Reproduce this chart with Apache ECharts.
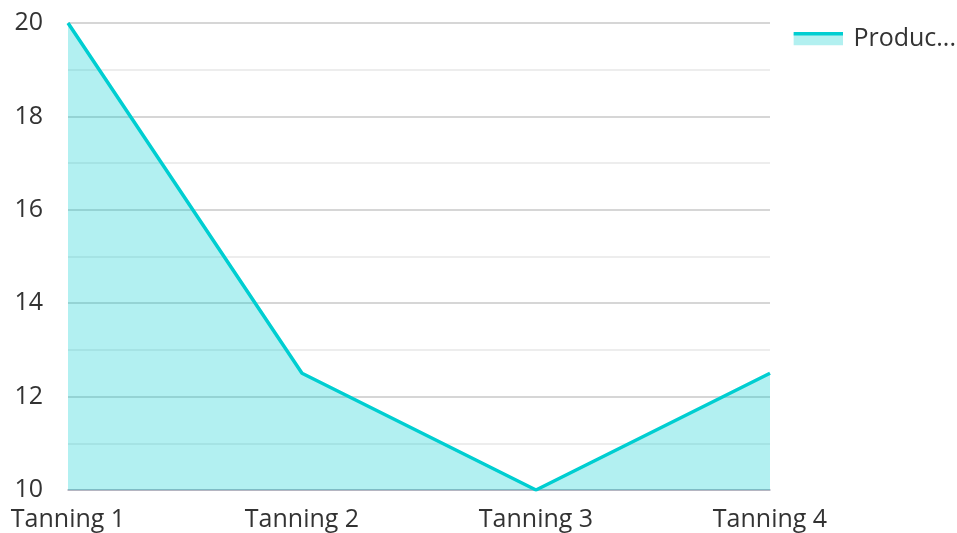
<!DOCTYPE html>
<html><head><meta charset="utf-8">
<script src="https://cdn.jsdelivr.net/npm/echarts@6/dist/echarts.min.js"></script>
<style>html,body{margin:0;padding:0;background:#fff}#c{width:957px;height:533px}</style>
</head><body><div id="c"></div>
<script>
var categories = ['Tanning 1', 'Tanning 2', 'Tanning 3', 'Tanning 4'];
var seriesName = 'Production';
var values = [20, 12.5, 10, 12.5];
var yTicks = [10, 12, 14, 16, 18, 20];

var iconSvg = '<svg xmlns="http://www.w3.org/2000/svg" width="50" height="14" viewBox="0 0 50 14">' +
  '<rect x="0" y="2" width="50" height="12" fill="rgb(178,240,240)"/>' +
  '<rect x="0" y="0" width="50" height="4" fill="rgb(0,206,209)"/></svg>';
var iconUrl = 'image://data:image/svg+xml;charset=utf-8,' + encodeURIComponent(iconSvg);

var chart = echarts.init(document.getElementById('c'));
chart.setOption({
  animation: false,
  textStyle: { fontFamily: 'Open Sans' },
  legend: {
    right: -4, top: 21,
    icon: iconUrl,
    itemWidth: 50, itemHeight: 14, itemGap: 10,
    textStyle: { fontSize: 25, color: '#333', width: 104, overflow: 'truncate', fontFamily: 'Open Sans', padding: [0, 0, 0, 5] },
    data: [seriesName]
  },
  grid: { left: 68, right: 187, top: 23, bottom: 43, containLabel: false },
  xAxis: {
    type: 'category', data: categories, boundaryGap: false,
    axisLine: { show: true, lineStyle: { color: '#aab', width: 1.5 } },
    axisTick: { show: false },
    axisLabel: { fontSize: 25, color: '#333', margin: 17, fontFamily: 'Open Sans' }
  },
  yAxis: {
    type: 'value', min: yTicks[0], max: yTicks[yTicks.length - 1], interval: 2,
    axisLine: { show: false }, axisTick: { show: false },
    axisLabel: { fontSize: 25, color: '#333', margin: 25, fontFamily: 'Open Sans' },
    splitLine: { lineStyle: { color: '#c8c8c8', width: 1.5 } },
    minorTick: { show: false, splitNumber: 2 },
    minorSplitLine: { show: true, lineStyle: { color: '#e8e8e8', width: 1.5 } }
  },
  series: [{
    name: seriesName, type: 'line', data: values,
    symbol: 'none',
    lineStyle: { color: '#00CED1', width: 3.5 },
    itemStyle: { color: '#00CED1' },
    areaStyle: { color: '#00CED1', opacity: 0.3, origin: 'start' }
  }]
});
</script></body></html>
